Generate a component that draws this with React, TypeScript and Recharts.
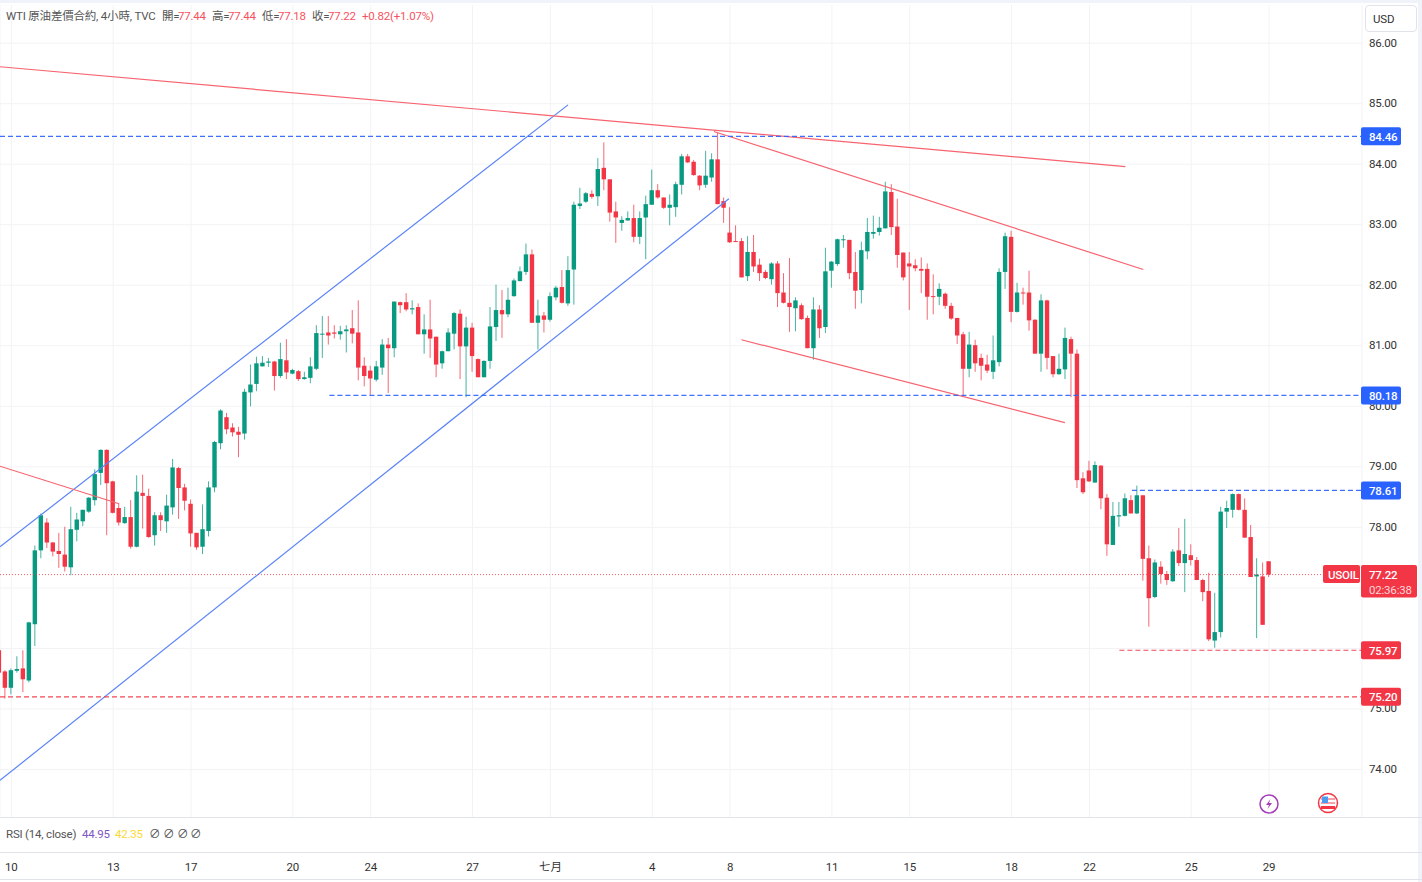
import { Bar, CartesianGrid, ComposedChart, ReferenceLine, XAxis, YAxis } from "recharts";

// 4h candles, left to right
const opens = [
	75.97, 75.62, 75.35, 75.63, 75.67, 75.47, 76.4, 77.62, 78.08, 77.75,
	77.61, 77.55, 77.34, 77.96, 78.1, 78.26, 78.45, 78.9, 79.28, 78.76,
	78.32, 78.07, 78.17, 77.68, 78.57, 78.52, 77.87, 78.2, 78.1, 78.33,
	78.98, 78.66, 78.39, 77.91, 77.68, 77.94, 78.66, 79.39, 79.82, 79.65,
	79.58, 79.55, 80.23, 80.37, 80.66, 80.72, 80.74, 80.5, 80.76, 80.54,
	80.58, 80.45, 80.47, 80.62, 81.19, 81.22, 81.22, 81.19, 81.24, 81.29,
	81.22, 80.67, 80.59, 80.44, 80.64, 81.02, 80.96, 81.72, 81.72, 81.6,
	81.64, 81.19, 81.27, 81.15, 80.71, 80.91, 81.2, 81.53, 80.99, 81.3,
	80.78, 80.48, 80.75, 81.31, 81.59, 81.52, 81.82, 82.07, 82.22, 82.51,
	81.38, 81.5, 81.43, 81.8, 81.97, 81.7, 82.26, 83.31, 83.38, 83.51,
	83.47, 83.94, 83.75, 83.22, 83.03, 83.07, 83.11, 82.8, 83.12, 83.33,
	83.57, 83.45, 83.28, 83.29, 83.66, 84.13, 84.04, 83.81, 83.66, 83.78,
	84.08, 83.39, 82.87, 82.73, 82.73, 82.15, 82.55, 82.34, 82.22, 82.1,
	82.36, 81.88, 81.71, 81.62, 81.67, 81.46, 80.96, 81.6, 81.31, 82.24,
	82.35, 82.75, 82.75, 82.22, 81.92, 82.56, 82.85, 82.88, 82.94, 83.54,
	82.97, 82.54, 82.36, 82.33, 82.27, 82.27, 81.82, 81.81, 81.86, 81.66,
	81.46, 81.19, 80.62, 81.01, 80.8, 80.69, 80.57, 80.73, 82.22, 82.8,
	81.56, 81.88, 81.88, 81.43, 80.87, 81.75, 80.83, 80.53, 80.61, 81.11,
	80.87, 78.81, 78.94, 78.74, 79.02, 78.49, 77.71, 78.18, 78.19, 78.45,
	78.23, 78.53, 77.49, 76.85, 77.35, 77.23, 77.11, 77.62, 77.41, 77.54,
	77.46, 77.13, 76.95, 76.13, 76.27, 78.26, 78.29, 78.55, 78.29, 77.84,
	77.19, 77.19, 77.44,
];
const closes = [
	75.6, 75.35, 75.64, 75.66, 75.49, 76.43, 77.62, 78.2, 77.75, 77.6,
	77.56, 77.35, 77.97, 78.13, 78.29, 78.49, 78.88, 79.28, 78.73, 78.24,
	78.08, 78.17, 77.68, 78.59, 78.52, 77.84, 78.2, 78.12, 78.36, 78.99,
	78.65, 78.44, 77.9, 77.67, 77.97, 78.66, 79.41, 79.93, 79.62, 79.57,
	79.53, 80.24, 80.36, 80.71, 80.72, 80.74, 80.5, 80.78, 80.56, 80.6,
	80.45, 80.48, 80.66, 81.21, 81.2, 81.17, 81.2, 81.24, 81.27, 81.2,
	80.64, 80.5, 80.46, 80.66, 81.02, 80.96, 81.73, 81.67, 81.6, 81.62,
	81.19, 81.27, 81.12, 80.69, 80.91, 81.22, 81.54, 80.99, 81.3, 80.83,
	80.48, 80.75, 81.32, 81.59, 81.52, 81.76, 82.08, 82.23, 82.51, 81.38,
	81.5, 81.43, 81.82, 81.96, 81.71, 82.25, 83.33, 83.35, 83.52, 83.46,
	83.92, 83.75, 83.2, 83.12, 83.08, 83.11, 82.8, 83.11, 83.34, 83.57,
	83.45, 83.28, 83.33, 83.67, 84.13, 84.03, 83.82, 83.65, 83.81, 84.08,
	83.34, 83.28, 82.71, 82.72, 82.13, 82.55, 82.31, 82.2, 82.12, 82.36,
	81.87, 81.71, 81.64, 81.75, 81.44, 80.96, 81.6, 81.29, 82.23, 82.39,
	82.76, 82.76, 82.2, 81.91, 82.58, 82.88, 82.88, 82.95, 83.55, 82.96,
	82.5, 82.13, 82.31, 82.28, 82.24, 81.81, 81.81, 81.94, 81.66, 81.45,
	81.17, 80.62, 81.02, 80.71, 80.67, 80.59, 80.76, 82.22, 82.81, 81.56,
	81.88, 81.87, 81.42, 80.87, 81.75, 80.8, 80.53, 80.62, 81.13, 80.87,
	78.78, 78.58, 78.76, 79.03, 78.48, 77.72, 78.19, 78.2, 78.48, 78.23,
	78.53, 77.48, 76.83, 77.42, 77.23, 77.13, 77.6, 77.41, 77.56, 77.46,
	77.13, 76.93, 76.15, 76.27, 78.26, 78.32, 78.55, 78.29, 77.83, 77.18,
	77.22, 76.39, 77.22,
];
const highs = [
	76.0, 75.64, 75.67, 75.87, 75.97, 76.44, 77.7, 78.23, 78.15, 77.76,
	77.91, 78.01, 78.34, 78.24, 78.29, 78.5, 78.96, 79.29, 79.29, 78.77,
	78.4, 78.34, 78.45, 78.86, 78.87, 78.64, 78.25, 78.25, 78.54, 79.13,
	79.0, 78.72, 78.46, 77.91, 78.38, 78.76, 79.43, 79.95, 79.89, 79.72,
	79.66, 80.29, 80.69, 80.82, 80.83, 80.8, 80.75, 81.05, 81.11, 80.62,
	80.6, 80.57, 80.81, 81.34, 81.49, 81.49, 81.34, 81.33, 81.34, 81.59,
	81.75, 80.81, 80.67, 80.75, 81.11, 81.13, 81.73, 81.73, 81.87, 81.75,
	81.7, 81.52, 81.76, 81.15, 80.92, 81.29, 81.56, 81.6, 81.48, 81.38,
	80.79, 80.76, 81.64, 82.01, 81.92, 81.96, 82.11, 82.31, 82.69, 82.59,
	81.76, 81.56, 81.88, 81.99, 82.25, 82.48, 83.38, 83.61, 83.54, 83.57,
	84.1, 84.36, 83.75, 83.38, 83.14, 83.22, 83.33, 83.22, 83.48, 83.91,
	83.67, 83.45, 83.5, 83.71, 84.17, 84.17, 84.07, 83.82, 84.22, 84.18,
	84.52, 83.45, 83.29, 82.99, 82.78, 82.81, 82.83, 82.44, 82.25, 82.38,
	82.4, 82.2, 82.45, 81.8, 81.7, 81.5, 81.8, 81.67, 82.62, 82.4,
	82.77, 82.83, 82.75, 82.55, 82.72, 83.11, 83.15, 83.13, 83.71, 83.67,
	83.43, 82.54, 82.55, 82.43, 82.46, 82.36, 82.18, 82.03, 81.88, 81.71,
	81.46, 81.23, 81.23, 81.1, 80.87, 80.85, 81.17, 82.28, 82.87, 82.9,
	82.04, 81.96, 82.24, 81.44, 81.85, 81.76, 80.83, 80.87, 81.3, 81.15,
	80.94, 78.91, 79.1, 79.09, 79.03, 78.55, 78.42, 78.42, 78.56, 78.53,
	78.69, 78.53, 77.7, 77.47, 77.44, 77.28, 77.64, 77.99, 78.14, 77.72,
	77.51, 77.15, 77.25, 76.92, 78.34, 78.44, 78.56, 78.56, 78.48, 78.04,
	77.49, 77.42, 77.44,
];
const lows = [
	75.58, 75.17, 75.24, 75.6, 75.28, 75.44, 76.04, 77.49, 77.66, 77.52,
	77.33, 77.27, 77.21, 77.77, 78.02, 78.24, 78.36, 78.7, 77.87, 78.23,
	78.03, 78.06, 77.65, 77.67, 77.98, 77.83, 77.7, 77.94, 77.91, 78.21,
	78.14, 78.28, 77.68, 77.63, 77.56, 77.85, 78.58, 79.29, 79.54, 79.5,
	79.16, 79.45, 80.0, 80.25, 80.66, 80.65, 80.26, 80.47, 80.45, 80.53,
	80.42, 80.44, 80.38, 80.6, 80.8, 81.02, 81.12, 81.1, 80.89, 81.04,
	80.43, 80.33, 80.19, 80.41, 80.52, 80.22, 80.81, 81.54, 81.57, 81.52,
	81.19, 80.87, 80.8, 80.48, 80.62, 80.91, 80.94, 80.45, 80.15, 80.57,
	80.48, 80.48, 80.62, 81.08, 81.13, 81.47, 81.81, 82.06, 82.17, 81.38,
	80.94, 81.22, 81.4, 81.75, 81.7, 81.66, 81.68, 83.26, 83.36, 83.43,
	83.31, 83.57, 83.05, 82.7, 82.9, 83.07, 82.71, 82.68, 82.43, 83.33,
	83.43, 83.26, 82.99, 83.13, 83.5, 84.02, 83.81, 83.57, 83.61, 83.71,
	83.34, 83.03, 82.7, 82.72, 82.13, 82.07, 82.22, 82.07, 82.1, 82.01,
	81.64, 81.7, 81.23, 81.24, 81.43, 80.96, 80.77, 81.13, 81.21, 81.96,
	82.32, 82.62, 82.1, 81.61, 81.7, 82.43, 82.77, 82.82, 82.94, 82.83,
	82.29, 82.08, 81.59, 82.23, 81.87, 81.43, 81.52, 81.67, 81.61, 81.43,
	81.03, 80.18, 80.48, 80.57, 80.43, 80.55, 80.45, 80.66, 81.94, 81.39,
	81.55, 81.68, 81.25, 80.87, 80.57, 80.61, 80.48, 80.52, 80.45, 80.15,
	78.65, 78.55, 78.75, 78.74, 78.3, 77.53, 77.71, 78.01, 78.18, 78.23,
	78.22, 77.12, 76.36, 76.83, 77.07, 77.05, 77.1, 77.36, 76.93, 77.37,
	77.13, 76.78, 76.12, 76.01, 76.18, 77.99, 78.16, 78.28, 77.83, 77.18,
	76.17, 76.39, 77.18,
];

const xTicks = [2, 19, 32, 49, 62, 79, 92, 109, 122, 139, 152, 169, 182, 199, 212];
const xLabels = ["10", "13", "17", "20", "24", "27", "七月", "4", "8", "11", "15", "18", "22", "25", "29"];
const gridPrices = [86, 85, 84, 83, 82, 81, 80, 79, 78, 77, 76, 75, 74];
// 77 and 76 sit behind the price tags, so they get a grid line but no label
const priceLabels = [86, 85, 84, 83, 82, 81, 80, 79, 78, 75, 74];

const blueLevels = [84.46, 80.18, 78.61];
const redLevels = [75.97, 75.2];
const lastPrice = 77.22;

const X_MIN = 0.1;
const X_MAX = 227.51;

// trend lines in candle index / price
const blueTrends = [
	{ x1: X_MIN, p1: 77.68, x2: 94.95, p2: 84.98 },
	{ x1: X_MIN, p1: 73.82, x2: 121.8, p2: 83.43 },
];
const redTrends = [
	{ x1: X_MIN, p1: 85.61, x2: 188.0, p2: 83.96 },
	{ x1: X_MIN, p1: 79.01, x2: 19.97, p2: 78.39 },
	{ x1: 119.3, p1: 84.54, x2: 191.0, p2: 82.26 },
	{ x1: 123.9, p1: 81.1, x2: 177.9, p2: 79.73 },
];
const blueLevelStarts = [X_MIN, 55.1, 189.1];
const redLevelStarts = [187, X_MIN];

const GREEN = "#089981";
const RED = "#f23645";
const SOFT_RED = "#f7525f";
const BLUE = "#2962ff";
const FONT = 'Roboto, "Noto Sans CJK TC", sans-serif';
const TEXT_SIZE = 11.5;

const candles = opens.map((open, i) => ({
	i,
	open,
	close: closes[i],
	high: highs[i],
	low: lows[i],
	range: [lows[i], highs[i]],
}));

const Candle = (props: any) => {
	const { x, y, width, height, payload } = props;
	const { open, close, high, low } = payload;
	const color = close >= open ? GREEN : RED;
	const perUnit = height / (high - low);
	const top = y + (high - Math.max(open, close)) * perUnit;
	const bodyH = Math.max(Math.abs(open - close) * perUnit, 1);
	const cx = x + width / 2;
	return (
		<g>
			<line x1={cx} x2={cx} y1={y} y2={y + height} stroke={color} strokeOpacity={0.75} />
			<rect x={cx - 2.2} y={top} width={4.4} height={bodyH} fill={color} />
		</g>
	);
};

const PriceTick = (props: any) => {
	const { x, y, payload } = props;
	const value = payload.value;
	if (value === lastPrice) {
		return (
			<g>
				<rect x={x - 41} y={y - 9.5} width={37} height={18} rx={2} fill={RED} />
				<text x={x - 36} y={y + 4.5} fontSize={TEXT_SIZE} fontWeight={500} fill="#fff">USOIL</text>
				<rect x={x - 3} y={y - 9.5} width={56} height={32.5} rx={2} fill={RED} />
				<text x={x + 5} y={y + 4.5} fontSize={TEXT_SIZE} fontWeight={500} fill="#fff">77.22</text>
				<text x={x + 5} y={y + 19.5} fontSize={TEXT_SIZE} fill="#fff" fillOpacity={0.8}>02:36:38</text>
			</g>
		);
	}
	const isBlue = blueLevels.includes(value);
	if (isBlue || redLevels.includes(value)) {
		return (
			<g>
				<rect x={x - 3} y={y - 9} width={40} height={18} rx={2} fill={isBlue ? BLUE : RED} />
				<text x={x + 5} y={y + 4.5} fontSize={TEXT_SIZE} fontWeight={500} fill="#fff">{value.toFixed(2)}</text>
			</g>
		);
	}
	return (
		<text x={x + 5} y={y + 3.5} fontSize={TEXT_SIZE} fill="#333">{value.toFixed(2)}</text>
	);
};

const Label = ({ x, y, color = "#555", children }: any) => (
	<span style={{ position: "absolute", left: x, top: y, color, fontSize: TEXT_SIZE, lineHeight: "14px", whiteSpace: "nowrap" }}>
		{children}
	</span>
);

const Rule = ({ y }: { y: number }) => (
	<div style={{ position: "absolute", left: 0, top: y, width: 1422, height: 1, background: "#e0e3eb" }} />
);

const App = () => {
	return (
		<div style={{ position: "absolute", left: 0, top: 0, width: 1422, height: 882, background: "#fff", overflow: "hidden", fontFamily: FONT, letterSpacing: -0.2 }}>
			<ComposedChart
				width={1422}
				height={880}
				data={candles}
				margin={{ top: 5, right: 0, bottom: 0, left: 0 }}
				style={{ position: "absolute", left: 0, top: 0 }}
			>
				<CartesianGrid stroke="#f2f3f5" horizontalValues={gridPrices} />
				<XAxis
					dataKey="i"
					type="number"
					domain={[X_MIN, X_MAX]}
					allowDataOverflow
					ticks={xTicks}
					interval={0}
					height={63}
					axisLine={false}
					tickLine={false}
					tickSize={0}
					tick={{ fontSize: TEXT_SIZE, fill: "#333", dy: 44 }}
					tickFormatter={(v: number) => xLabels[xTicks.indexOf(v)]}
				/>
				<YAxis
					orientation="right"
					type="number"
					width={60}
					domain={[73.215, 86.63]}
					allowDataOverflow
					ticks={[...priceLabels, ...blueLevels, ...redLevels, lastPrice]}
					interval={0}
					axisLine={false}
					tickLine={false}
					tickSize={0}
					tick={<PriceTick />}
				/>
				<Bar dataKey="range" barSize={5} shape={<Candle />} isAnimationActive={false} />
				{blueTrends.map((t) => (
					<ReferenceLine
						key={`${t.x1}-${t.p1}`}
						segment={[{ x: t.x1, y: t.p1 }, { x: t.x2, y: t.p2 }]}
						ifOverflow="visible"
						stroke="#5b84f7"
						strokeWidth={1.2}
					/>
				))}
				{redTrends.map((t) => (
					<ReferenceLine
						key={`${t.x1}-${t.p1}`}
						segment={[{ x: t.x1, y: t.p1 }, { x: t.x2, y: t.p2 }]}
						ifOverflow="visible"
						stroke="#f7636f"
						strokeWidth={1.2}
					/>
				))}
				{blueLevels.map((p, i) => (
					<ReferenceLine
						key={p}
						segment={[{ x: blueLevelStarts[i], y: p }, { x: X_MAX, y: p }]}
						ifOverflow="visible"
						stroke={BLUE}
						strokeWidth={1.2}
						strokeOpacity={0.9}
						strokeDasharray="5 3"
					/>
				))}
				{redLevels.map((p, i) => (
					<ReferenceLine
						key={p}
						segment={[{ x: redLevelStarts[i], y: p }, { x: X_MAX, y: p }]}
						ifOverflow="visible"
						stroke={RED}
						strokeWidth={1.2}
						strokeOpacity={0.9}
						strokeDasharray="5 3"
					/>
				))}
				<ReferenceLine
					segment={[{ x: X_MIN, y: lastPrice }, { x: 220.8, y: lastPrice }]}
					ifOverflow="visible"
					stroke={RED}
					strokeOpacity={0.8}
					strokeDasharray="1 2"
				/>
			</ComposedChart>

			<div style={{ position: "absolute", left: 0, top: 0, width: 1422, height: 3, background: "#f0f3fa" }} />
			<div style={{ position: "absolute", left: 1418, top: 0, width: 4, height: 882, background: "#f0f3fa" }} />
			<Rule y={817} />
			<Rule y={852} />
			<Rule y={879} />

			<Label x={6} y={9}>WTI 原油差價合約, 4小時, TVC</Label>
			<Label x={162} y={9}>開=</Label>
			<Label x={178} y={9} color={SOFT_RED}>77.44</Label>
			<Label x={212} y={9}>高=</Label>
			<Label x={228} y={9} color={SOFT_RED}>77.44</Label>
			<Label x={262} y={9}>低=</Label>
			<Label x={278} y={9} color={SOFT_RED}>77.18</Label>
			<Label x={312} y={9}>收=</Label>
			<Label x={328} y={9} color={SOFT_RED}>77.22</Label>
			<Label x={362} y={9} color={SOFT_RED}>+0.82</Label>
			<Label x={390} y={9} color={SOFT_RED}>(+1.07%)</Label>

			<Label x={6} y={827}>RSI (14, close)</Label>
			<Label x={82} y={827} color="#7e57c2">44.95</Label>
			<Label x={115} y={827} color="#fdd835">42.35</Label>
			<Label x={149} y={827}>∅</Label>
			<Label x={163} y={827}>∅</Label>
			<Label x={177} y={827}>∅</Label>
			<Label x={190} y={827}>∅</Label>

			<div style={{ position: "absolute", left: 1365, top: 5, width: 50, height: 25, border: "1px solid #e0e3eb", borderRadius: 4, background: "#fff" }} />
			<Label x={1373} y={12} color="#333">USD</Label>

			<svg style={{ position: "absolute", left: 1256, top: 790 }} width={26} height={28}>
				<circle cx={13} cy={14} r={9} fill="#fff" stroke="#a63dbb" strokeWidth={1.5} />
				<path d="M14.5 9 L10 15 L13 15 L11.5 19 L16 13 L13 13 Z" fill="#a63dbb" />
			</svg>
			<svg style={{ position: "absolute", left: 1316, top: 791 }} width={26} height={26}>
				<circle cx={12} cy={12} r={9.5} fill="#fff" stroke="#f23645" strokeWidth={1.5} />
				<rect x={5} y={7} width={14} height={2} fill="#f7a0a8" />
				<rect x={5} y={11} width={14} height={2} fill="#f7a0a8" />
				<rect x={5} y={15} width={14} height={3} fill="#f23645" />
				<rect x={6} y={5.5} width={6} height={6.5} fill="#4d9bf0" />
			</svg>
		</div>
	);
};

export default App;
